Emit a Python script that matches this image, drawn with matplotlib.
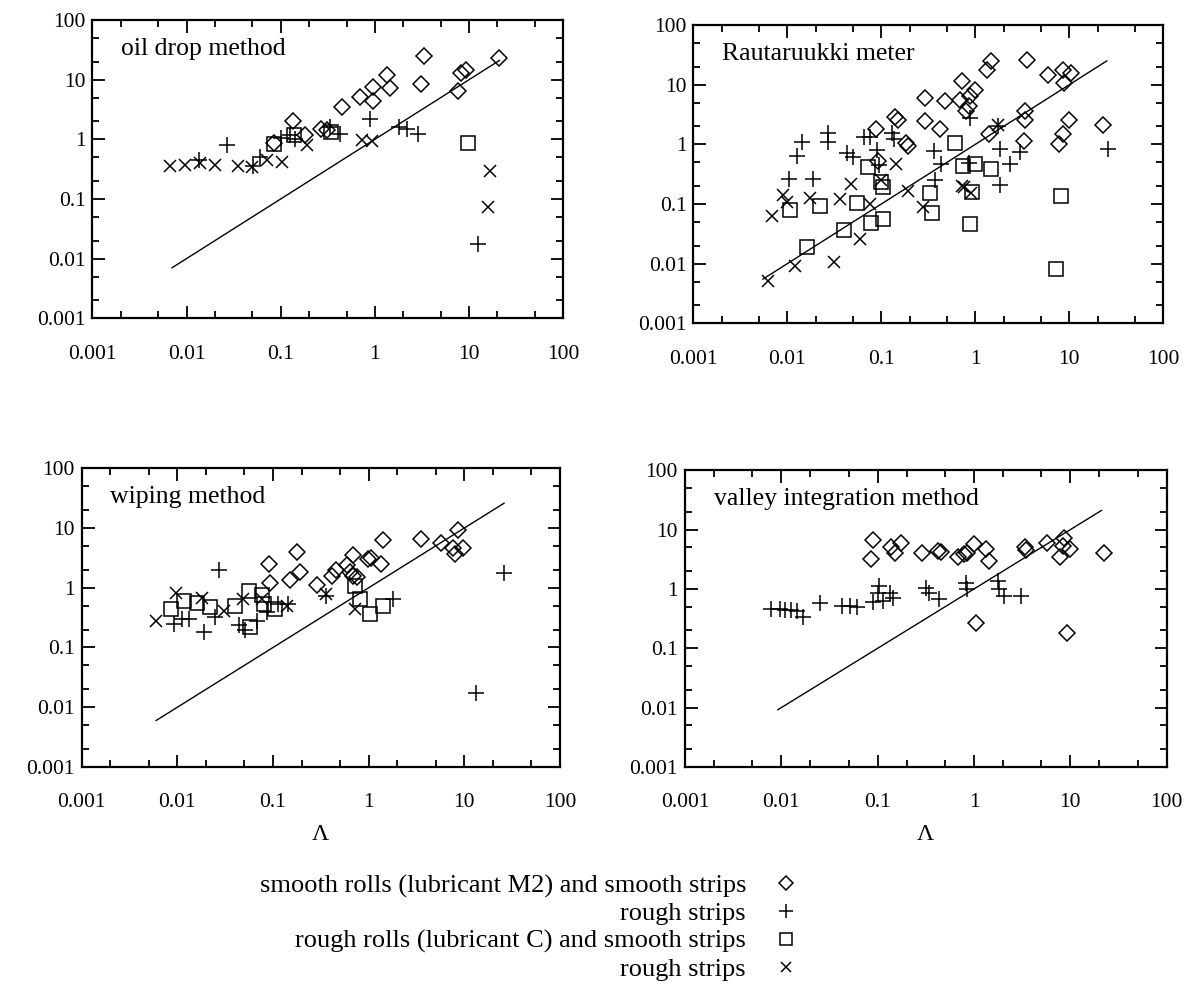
import matplotlib
matplotlib.use("Agg")
import matplotlib.pyplot as plt
from matplotlib.lines import Line2D
from matplotlib.ticker import FixedLocator, NullFormatter

plt.rcParams['font.family'] = ['Liberation Serif', 'DejaVu Serif']

# axis ticks
tick_vals = [0.001, 0.01, 0.1, 1, 10, 100]
tick_labels = ['0.001', '0.01', '0.1', '1', '10', '100']
minor_vals = [m * 10.0 ** e for e in range(-3, 2) for m in (2, 5)]

# reference line y = x, ends
line_x = [[0.007, 21], [0.0055, 25], [0.006, 26], [0.0092, 21]]

# --- oil drop method
d1x = [0.084, 0.136, 0.18, 0.27, 0.31, 0.45, 0.69, 0.96, 0.96, 1.33, 1.45, 3.1, 3.3, 7.7, 8.2, 9.2, 21]
d1y = [0.86, 2.0, 1.19, 1.5, 1.44, 3.5, 5.2, 4.4, 7.6, 12, 7.2, 8.5, 25, 6.5, 13, 14.5, 23]
p1x = [0.0135, 0.027, 0.051, 0.06, 0.1, 0.125, 0.142, 0.33, 0.43, 0.88, 1.8, 2.2, 2.9, 12.5]
p1y = [0.45, 0.79, 0.36, 0.5, 1.05, 1.2, 1.0, 1.6, 1.22, 2.2, 1.6, 1.5, 1.24, 0.0175]
s1x = [0.085, 0.14, 0.34, 9.8]
s1y = [0.85, 1.2, 1.35, 0.86]
x1x = [0.0067, 0.0097, 0.0139, 0.020, 0.035, 0.049, 0.071, 0.103, 0.19, 0.73, 0.93, 16.7, 16]
x1y = [0.35, 0.37, 0.40, 0.37, 0.35, 0.34, 0.45, 0.42, 0.8, 0.98, 0.95, 0.29, 0.073]

# --- Rautaruukki meter
d2x = [0.0885, 0.092, 0.14, 0.15, 0.184, 0.19, 0.29, 0.29, 0.42, 0.48, 0.69, 0.72, 0.8, 0.85,
       0.88, 1.0, 1.33, 1.45, 1.39, 3.3, 3.4, 3.4, 3.58, 5.9, 7.8, 8.5, 8.5, 8.8, 10, 10.4, 22.8]
d2y = [1.78, 0.53, 2.9, 2.6, 1.07, 0.92, 6.0, 2.45, 1.78, 5.3, 5.6, 11.4, 3.6, 4.4,
       6.5, 8.3, 17.8, 24.5, 1.47, 1.14, 3.6, 2.6, 26, 14.7, 1.0, 1.47, 17.8, 10.7, 2.6, 15.6, 2.15]
p2x = [0.0103, 0.0126, 0.0142, 0.0189, 0.027, 0.027, 0.043, 0.05, 0.065, 0.075, 0.09, 0.095,
       0.13, 0.135, 0.36, 0.375, 0.43, 0.88, 0.85, 1.75, 1.85, 2.36, 1.85, 3.0, 26]
p2y = [0.26, 0.64, 1.1, 0.26, 1.55, 1.08, 0.72, 0.62, 1.35, 1.35, 0.81, 0.45,
       1.55, 1.25, 0.77, 0.256, 0.46, 2.8, 0.49, 2.0, 0.85, 0.46, 0.21, 0.73, 0.84]
s2x = [0.0107, 0.016, 0.022, 0.04, 0.055, 0.072, 0.078, 0.1, 0.104, 0.104, 0.33, 0.343,
       0.61, 0.74, 0.88, 0.92, 1.0, 1.45, 8.1, 7.3]
s2y = [0.078, 0.019, 0.093, 0.036, 0.105, 0.42, 0.048, 0.23, 0.19, 0.055, 0.15, 0.072,
       1.07, 0.43, 0.047, 0.16, 0.46, 0.38, 0.136, 0.0082]
x2x = [0.0063, 0.0068, 0.0091, 0.0098, 0.0121, 0.0174, 0.031, 0.036, 0.048, 0.059, 0.075,
       0.10, 0.144, 0.192, 0.28, 0.72, 0.75, 0.9, 1.75]
x2y = [0.0051, 0.063, 0.14, 0.11, 0.0092, 0.125, 0.0105, 0.12, 0.22, 0.026, 0.1,
       0.25, 0.46, 0.165, 0.09, 0.2, 0.19, 0.15, 2.1]

# --- wiping method
d3x = [0.09, 0.094, 0.151, 0.177, 0.192, 0.29, 0.41, 0.46, 0.59, 0.64, 0.69, 0.69, 0.75,
       0.99, 1.05, 1.36, 1.42, 3.5, 5.7, 7.6, 7.9, 8.5, 9.6]
d3y = [2.5, 1.2, 1.35, 3.9, 1.85, 1.12, 1.6, 1.97, 2.4, 1.85, 3.5, 1.6, 1.5,
       3.0, 3.2, 2.5, 6.3, 6.6, 5.7, 4.7, 3.7, 9.4, 4.7]
p3x = [0.0092, 0.0113, 0.0132, 0.0189, 0.025, 0.027, 0.044, 0.051, 0.068, 0.086, 0.114,
       0.145, 0.36, 1.8, 13.2, 26]
p3y = [0.25, 0.3, 0.3, 0.18, 0.32, 1.97, 0.235, 0.195, 0.28, 0.39, 0.53,
       0.53, 0.72, 0.64, 0.017, 1.74]
s3x = [0.0085, 0.0117, 0.016, 0.022, 0.040, 0.056, 0.058, 0.076, 0.08, 0.105, 0.72, 0.81, 1.03, 1.42]
s3y = [0.44, 0.6, 0.56, 0.47, 0.5, 0.87, 0.22, 0.77, 0.53, 0.44, 1.05, 0.64, 0.36, 0.5]
x3x = [0.006, 0.0096, 0.018, 0.031, 0.049, 0.077, 0.14, 0.36, 0.72]
x3y = [0.28, 0.82, 0.68, 0.41, 0.64, 0.64, 0.5, 0.8, 0.44]

# --- valley integration method
d4x = [0.089, 0.085, 0.138, 0.15, 0.176, 0.286, 0.42, 0.45, 0.69, 0.79, 0.85, 1.0, 1.33,
       1.44, 3.36, 3.5, 5.7, 8.5, 8.4, 10, 7.9, 22.4, 1.04, 9.2]
d4y = [6.6, 3.2, 5.0, 4.1, 6.0, 4.05, 4.4, 4.2, 3.4, 3.9, 4.1, 5.7, 4.7,
       3.0, 5.0, 4.5, 6.0, 7.3, 5.3, 4.7, 3.4, 4.05, 0.27, 0.178]
p4x = [0.0078, 0.0096, 0.0108, 0.0127, 0.0144, 0.0169, 0.0254, 0.043, 0.052, 0.0615, 0.089,
       0.1, 0.104, 0.113, 0.133, 0.144, 0.32, 0.34, 0.43, 0.82, 0.85, 1.76, 1.83, 2.07, 3.1]
p4y = [0.46, 0.46, 0.44, 0.44, 0.43, 0.335, 0.59, 0.52, 0.51, 0.5, 0.6,
       0.86, 1.1, 0.63, 0.86, 0.71, 1.04, 0.86, 0.67, 1.25, 0.99, 1.34, 0.99, 0.76, 0.76]
s4x, s4y = [], []
x4x, x4y = [], []

titles = ['oil drop method', 'Rautaruukki meter', 'wiping method', 'valley integration method']
legend_labels = ['smooth rolls (lubricant M2) and smooth strips', 'rough strips',
                 'rough rolls (lubricant C) and smooth strips', 'rough strips']

panels = [
    (d1x, d1y, p1x, p1y, s1x, s1y, x1x, x1y),
    (d2x, d2y, p2x, p2y, s2x, s2y, x2x, x2y),
    (d3x, d3y, p3x, p3y, s3x, s3y, x3x, x3y),
    (d4x, d4y, p4x, p4y, s4x, s4y, x4x, x4y),
]

fig = plt.figure(figsize=(11.96, 9.89), dpi=100)
boxes = [
    [0.0772, 0.6782, 0.3938, 0.3016],
    [0.5797, 0.6731, 0.3930, 0.3016],
    [0.0683, 0.2245, 0.3999, 0.3020],
    [0.5727, 0.2245, 0.4028, 0.3000],
]

mk = dict(linestyle='none', color='black', markerfacecolor='none', markeredgewidth=1.1)

for i, (box, data) in enumerate(zip(boxes, panels)):
    ax = fig.add_axes(box)
    dx, dy, px, py, sx, sy, xx, xy = data
    ax.plot(line_x[i], line_x[i], color='black', linewidth=1.0)
    ax.plot(dx, dy, marker='D', markersize=8.5, **mk)
    ax.plot(px, py, marker='+', markersize=11, **mk)
    ax.plot(sx, sy, marker='s', markersize=10, **mk)
    ax.plot(xx, xy, marker='x', markersize=9, **mk)
    ax.set_xscale('log')
    ax.set_yscale('log')
    ax.set_xlim(0.001, 100)
    ax.set_ylim(0.001, 100)
    for axis in (ax.xaxis, ax.yaxis):
        axis.set_major_locator(FixedLocator(tick_vals))
        axis.set_minor_locator(FixedLocator(minor_vals))
        axis.set_minor_formatter(NullFormatter())
    ax.set_xticklabels(tick_labels)
    ax.set_yticklabels(tick_labels)
    ax.tick_params(which='both', direction='in', top=True, right=True, width=1.3, labelsize=15.5)
    ax.tick_params(which='major', length=9)
    ax.tick_params(which='minor', length=5)
    ax.tick_params(axis='x', which='major', pad=19 if i < 2 else 18.5)
    ax.tick_params(axis='y', which='major', pad=5)
    for sp in ax.spines.values():
        sp.set_linewidth(1.6)
    ax.text(0.06, 0.94, titles[i], transform=ax.transAxes, fontsize=18.5, ha='left', va='top')
    if i >= 2:
        ax.set_xlabel('Λ', fontsize=17, labelpad=9)

handles = [
    Line2D([], [], marker='D', markersize=7, **mk),
    Line2D([], [], marker='+', markersize=10, **mk),
    Line2D([], [], marker='s', markersize=8, **mk),
    Line2D([], [], marker='x', markersize=7, **mk),
]
fig.legend(handles, legend_labels, loc='upper right', bbox_to_anchor=(0.679, 0.130),
           frameon=False, markerfirst=False, fontsize=19, handlelength=1.0,
           handletextpad=1.0, labelspacing=0.16, borderpad=0)

fig.savefig('out.png', dpi=100)
